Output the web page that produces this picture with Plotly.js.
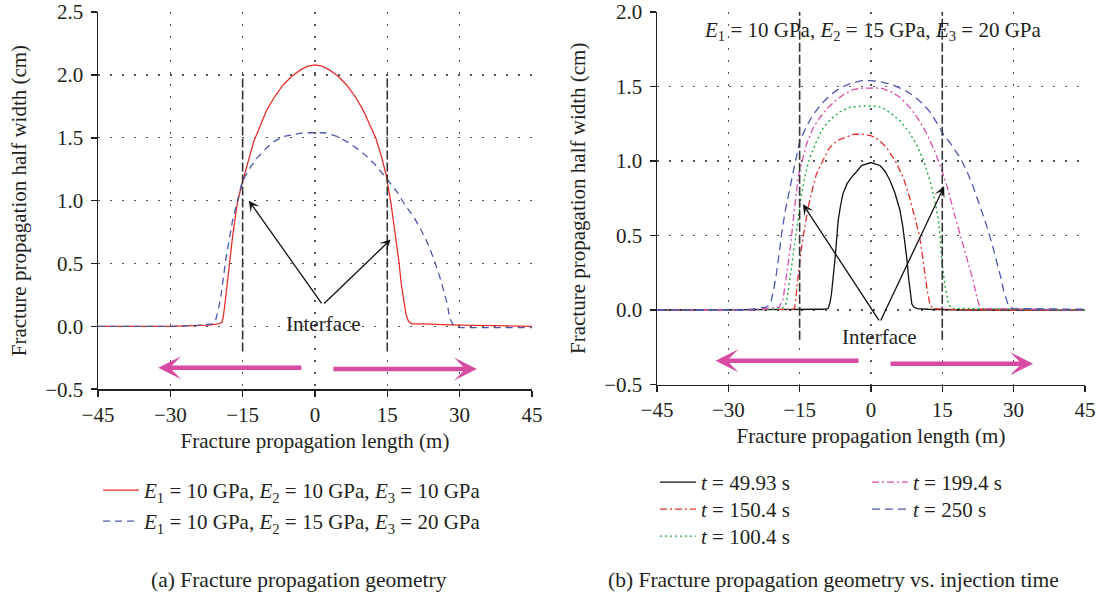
<!DOCTYPE html>
<html>
<head>
<meta charset="utf-8">
<script src="https://cdn.plot.ly/plotly-3.0.1.min.js"></script>
<style>html,body{margin:0;padding:0;background:#fff;}#chart{width:1099px;height:597px;}</style>
</head>
<body>
<div id="chart"></div>
<script>
// ---------- Panel (a) data ----------
const xRedA = [-45,-30,-22,-20,-19.3,-19.0,-18.6,-18.2,-17.6,-17.1,-16.1,-15.1,-14,-12.7,-11.3,-10,-8.3,-6.6,-4.8,-3,-1.5,0,1.5,3,4.8,6.6,8.3,10,11.3,12.6,13.8,14.8,15.8,16.8,17.4,17.9,18.4,18.9,19.4,20,22,30,45];
const yRedA = [0,0,0.01,0.02,0.03,0.08,0.2,0.34,0.55,0.71,0.98,1.14,1.29,1.47,1.6,1.72,1.83,1.92,1.99,2.04,2.07,2.08,2.07,2.04,1.99,1.92,1.83,1.72,1.61,1.5,1.35,1.2,0.97,0.71,0.52,0.34,0.2,0.09,0.04,0.02,0.02,0.01,0];
const xBlueA = [-45,-30,-24,-22,-21,-20.6,-20,-19.5,-18.5,-17.1,-15.1,-13.5,-12,-10,-8.5,-6.5,-5,-2.5,-0.5,2,4.7,7,8.9,10.5,12.4,14,15.2,17,18.6,20.5,22.1,23.5,24.8,26,26.9,27.5,27.9,28.4,28.8,30,45];
const yBlueA = [0,0,0.01,0.02,0.02,0.05,0.14,0.24,0.53,0.84,1.15,1.26,1.34,1.42,1.47,1.51,1.52,1.54,1.54,1.54,1.51,1.46,1.41,1.36,1.29,1.22,1.16,1.07,0.97,0.87,0.76,0.65,0.52,0.38,0.26,0.17,0.07,0.03,0,-0.01,-0.01];

// ---------- Panel (b) data ----------
const xT049 = [-45,-20,-10,-9.0,-8.6,-8.3,-7.9,-7.6,-7.2,-6.9,-6.4,-5.9,-5,-4.1,-3,-2,-1,0,1,1.9,3,4,5,6.1,6.7,7.2,7.6,7.9,8.3,8.6,9,9.7,12,20,45];
const yT049 = [0,0,0.005,0.01,0.05,0.11,0.22,0.33,0.48,0.6,0.7,0.78,0.85,0.89,0.93,0.97,0.98,0.99,0.98,0.97,0.93,0.87,0.79,0.67,0.56,0.44,0.33,0.22,0.12,0.04,0.02,0.01,0.005,0,0];
const xT150 = [-45,-20,-16.5,-16.1,-15.8,-15.6,-15.1,-14.6,-13.9,-13.2,-12.3,-11.5,-10,-8.7,-7,-5.2,-3.5,-1.8,0,1.8,3.5,5.3,6.8,8.1,9.2,10.2,10.8,11.3,11.9,12.4,13,15,20,45];
const yT150 = [0,0,0.005,0.01,0.07,0.15,0.28,0.42,0.56,0.69,0.81,0.91,1.01,1.09,1.14,1.16,1.18,1.18,1.17,1.14,1.08,0.99,0.89,0.76,0.63,0.5,0.37,0.24,0.12,0.04,0.01,0.005,0,0];
const xT100 = [-45,-24,-20,-18.3,-17.8,-17.3,-16.7,-15.7,-14.6,-13.8,-12.9,-11.5,-10.1,-8.5,-6.6,-4.5,-1.8,0.5,2.3,4.2,6.1,7.9,9.6,11.1,12.4,13.4,14.2,14.6,14.9,15.3,15.6,16.3,17,20,45];
const yT100 = [0,0,0.005,0.02,0.05,0.15,0.29,0.56,0.78,0.91,1.02,1.13,1.22,1.28,1.33,1.36,1.37,1.37,1.36,1.32,1.27,1.2,1.11,1.0,0.87,0.74,0.6,0.47,0.33,0.23,0.16,0.04,0.01,0.01,0];
const xT199 = [-45,-25,-22,-19.3,-18.5,-18,-17.5,-16.9,-16.4,-15.8,-15.2,-14.4,-13.6,-12.2,-10.8,-9,-7.3,-5.5,-3.7,-1.8,-0.2,2,4,6,8.2,10,11.8,13.5,15,16.3,17.4,18.5,19.5,20.5,21.3,21.9,22.4,23,25,45];
const yT199 = [0,0,0.01,0.02,0.07,0.17,0.29,0.44,0.6,0.76,0.91,1.02,1.11,1.22,1.29,1.36,1.41,1.45,1.48,1.49,1.49,1.49,1.47,1.43,1.36,1.28,1.18,1.06,0.93,0.8,0.66,0.54,0.42,0.31,0.22,0.14,0.07,0.01,0.01,0];
const xT250 = [-45,-26,-24,-22,-21.5,-21,-20.5,-19.9,-19.3,-18.8,-18,-17.1,-16,-15,-13.6,-12.2,-10.5,-8.7,-6.5,-4.4,-2,0,2.3,4.7,6.8,8.9,10.7,12.4,13.8,15,16.9,18.8,20.2,21.6,23,24.4,25.5,26.6,27.3,27.9,28.5,29,30,45];
const yT250 = [0,0,0.01,0.02,0.03,0.06,0.13,0.24,0.38,0.51,0.67,0.82,0.98,1.13,1.23,1.31,1.38,1.44,1.49,1.52,1.54,1.54,1.53,1.51,1.48,1.44,1.39,1.33,1.26,1.19,1.11,1.02,0.93,0.82,0.69,0.56,0.44,0.31,0.22,0.13,0.06,0.02,0.01,0.005];

// ---------- labels ----------
const xTicks = [-45,-30,-15,0,15,30,45];
const nameA = ['<i>E</i><sub>1</sub> = 10 GPa, <i>E</i><sub>2</sub> = 10 GPa, <i>E</i><sub>3</sub> = 10 GPa',
               '<i>E</i><sub>1</sub> = 10 GPa, <i>E</i><sub>2</sub> = 15 GPa, <i>E</i><sub>3</sub> = 20 GPa'];
const nameB = ['<i>t</i> = 49.93 s','<i>t</i> = 150.4 s','<i>t</i> = 100.4 s','<i>t</i> = 199.4 s','<i>t</i> = 250 s'];
const topNoteB = '<i>E</i><sub>1</sub> = 10 GPa, <i>E</i><sub>2</sub> = 15 GPa, <i>E</i><sub>3</sub> = 20 GPa';
const captions = ['(a) Fracture propagation geometry','(b) Fracture propagation geometry vs. injection time'];
const xTitle = 'Fracture propagation length (m)';
const yTitle = 'Fracture propagation half width (cm)';

// interface lines
const interfaceX = [-15, 15];
const interfaceYA = [-0.2, 2.0];
const interfaceYB = [-0.2, 2.0];
// annotation arrows: [tailX, tailY, tipX, tipY]
const blackArrowsA = [[1.6,0.17,-13.7,1.0],[1.6,0.17,15.7,0.69]];
const blackArrowsB = [[1.9,-0.08,-14.3,0.71],[1.9,-0.08,15.4,0.83]];
const pinkArrowsA = [[-2.5,-0.33,-32.5,-0.33],[3.5,-0.34,33.6,-0.34]];
const pinkArrowsB = [[-2.3,-0.34,-32.7,-0.34],[3.8,-0.36,34.1,-0.36]];
const interfaceLabelA = [1.8, 0.02];
const interfaceLabelB = [1.9, -0.18];
const topNotePos = [0.4, 1.87];

const FONT = 'Liberation Serif';
const FS = 21;
const INK = '#231f20';
const PINK = '#d84ba3';

const traces = [
  {x:xRedA, y:yRedA, xaxis:'x', yaxis:'y', mode:'lines', name:nameA[0], line:{color:'#e8302a', width:1.3}, legend:'legend'},
  {x:xBlueA, y:yBlueA, xaxis:'x', yaxis:'y', mode:'lines', name:nameA[1], line:{color:'#4a58b0', width:1.3, dash:'7px,5px'}, legend:'legend2'},
  {x:xT049, y:yT049, xaxis:'x2', yaxis:'y2', mode:'lines', name:nameB[0], line:{color:'#111', width:1.3}, legend:'legend3'},
  {x:xT150, y:yT150, xaxis:'x2', yaxis:'y2', mode:'lines', name:nameB[1], line:{color:'#e8302a', width:1.3, dash:'7px,3px,2px,3px'}, legend:'legend4'},
  {x:xT100, y:yT100, xaxis:'x2', yaxis:'y2', mode:'lines', name:nameB[2], line:{color:'#1fae3f', width:1.4, dash:'2px,3px'}, legend:'legend5'},
  {x:xT199, y:yT199, xaxis:'x2', yaxis:'y2', mode:'lines', name:nameB[3], line:{color:'#d94fae', width:1.3, dash:'7px,3px,2px,3px'}, legend:'legend6'},
  {x:xT250, y:yT250, xaxis:'x2', yaxis:'y2', mode:'lines', name:nameB[4], line:{color:'#4a58b0', width:1.3, dash:'8px,5px'}, legend:'legend7'}
];

function xax(domain, anchor){
  return {domain:domain, anchor:anchor, range:[-45,45.02], tickvals:xTicks, showline:true, linecolor:INK, linewidth:1.5,
    ticks:'outside', ticklen:6, tickwidth:1.5, tickcolor:INK, showgrid:true, gridcolor:'#555', gridwidth:1.2, griddash:'1.5px,10.5px',
    zeroline:false, tickfont:{family:FONT, size:FS, color:INK}, ticklabeloverflow:'allow',
    title:{text:xTitle, font:{family:FONT, size:FS, color:INK}, standoff:7}};
}
function yax(domain, anchor, range){
  return {domain:domain, anchor:anchor, range:range, dtick:0.5, tick0:0, tickformat:'.1f', showline:true, linecolor:INK, linewidth:1.5,
    ticks:'outside', ticklen:6, tickwidth:1.5, tickcolor:INK, showgrid:true, gridcolor:'#555', gridwidth:1.2, griddash:'1.5px,10.5px',
    zeroline:false, tickfont:{family:FONT, size:FS, color:INK}, ticklabeloverflow:'allow', ticklabelstandoff:3,
    title:{text:yTitle, font:{family:FONT, size:FS, color:INK}, standoff:13}};
}

const shapes = [];
interfaceX.forEach(v => {
  shapes.push({type:'line', xref:'x', yref:'y', x0:v, x1:v, y0:interfaceYA[0], y1:interfaceYA[1], line:{color:'#333', width:1.6, dash:'9px,3px'}});
  shapes.push({type:'line', xref:'x2', yref:'y2', x0:v, x1:v, y0:interfaceYB[0], y1:interfaceYB[1], line:{color:'#333', width:1.6, dash:'9px,3px'}});
});

const annotations = [];
function addArrows(list, xr, yr, color, width, size){
  list.forEach(a => annotations.push({xref:xr, yref:yr, axref:xr, ayref:yr, ax:a[0], ay:a[1], x:a[2], y:a[3], text:'',
    showarrow:true, arrowhead:3, arrowsize:size, arrowwidth:width, arrowcolor:color, standoff:0, startstandoff:0}));
}
addArrows(blackArrowsA, 'x', 'y', '#111', 1.3, 1.4);
addArrows(blackArrowsB, 'x2', 'y2', '#111', 1.3, 1.4);
addArrows(pinkArrowsA, 'x', 'y', PINK, 4.5, 0.85);
addArrows(pinkArrowsB, 'x2', 'y2', PINK, 4.5, 0.85);
annotations.push({xref:'x', yref:'y', x:interfaceLabelA[0], y:interfaceLabelA[1], text:'Interface', showarrow:false, xanchor:'center', font:{family:FONT, size:FS, color:INK}});
annotations.push({xref:'x2', yref:'y2', x:interfaceLabelB[0], y:interfaceLabelB[1], text:'Interface', showarrow:false, xanchor:'center', font:{family:FONT, size:FS, color:INK}});
annotations.push({xref:'x2', yref:'y2', x:topNotePos[0], y:topNotePos[1], text:topNoteB, showarrow:false, xanchor:'center', font:{family:FONT, size:FS, color:INK}});
annotations.push({xref:'paper', yref:'paper', x:299/1099, y:1-580/597, text:captions[0], showarrow:false, xanchor:'center', yanchor:'middle', font:{family:FONT, size:21.5, color:INK}});
annotations.push({xref:'paper', yref:'paper', x:833/1099, y:1-580/597, text:captions[1], showarrow:false, xanchor:'center', yanchor:'middle', font:{family:FONT, size:21.5, color:INK}});

const legFont = {family:FONT, size:FS, color:INK};
function leg(xpx, toppx){
  return {x:xpx/1099, y:1-toppx/597, xanchor:'left', yanchor:'top', bgcolor:'rgba(0,0,0,0)', font:legFont, itemwidth:36};
}
const layout = {
  width:1099, height:597, margin:{l:0, r:0, t:0, b:0}, paper_bgcolor:'#fff', plot_bgcolor:'#fff',
  font:{family:FONT, color:INK},
  xaxis: xax([98/1099, 532/1099], 'y'),
  yaxis: yax([1-389.2/597, 1-12/597], 'x', [-0.5, 2.5005]),
  xaxis2: xax([657/1099, 1085/1099], 'y2'),
  yaxis2: yax([1-384.5/597, 1-12/597], 'x2', [-0.5, 2.0005]),
  showlegend:true,
  legend: leg(98, 470),
  legend2: leg(98, 501),
  legend3: leg(655, 462),
  legend4: leg(655, 489),
  legend5: leg(655, 516),
  legend6: leg(867, 462),
  legend7: leg(867, 489),
  shapes:shapes, annotations:annotations
};
Plotly.newPlot('chart', traces, layout, {staticPlot:true, displayModeBar:false});
</script>
</body>
</html>
